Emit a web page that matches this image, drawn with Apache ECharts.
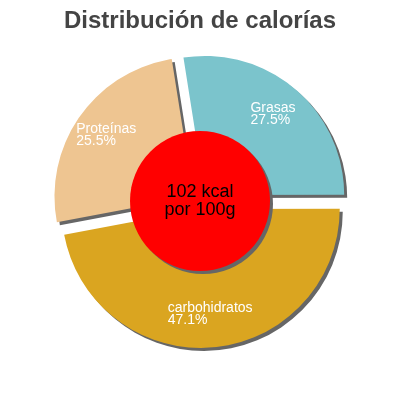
<!DOCTYPE html>
<html>
    <head>
        <meta charset="UTF-8">
        <title>Distribución de calorías</title>
        <script src="https://cdn.jsdelivr.net/npm/echarts@6/dist/echarts.min.js"></script>
    </head>
    <body style="margin: 0; background-color: #fff;">
        <div id="main" style="width: 400px;height:400px;"></div>
        <script>
            // datos
            var categories = ['Grasas', 'carbohidratos', 'Proteínas'];
            var values = [27.5, 47.1, 25.5];
            var colors = ['#7bc4cc', '#daa520', '#eec591'];
            var centerLines = ['102 kcal', 'por 100g'];

            var gb = {
                center: [200, 201],
                radius: 139,
                inner: 70,
                offset: 8,
                shadow: '#666',
                font: '"Liberation Sans", Arial, sans-serif',
                labelSize: 14
            };

            // ancho de cada etiqueta para alinear las dos lineas a la izquierda
            var ctx = document.createElement('canvas').getContext('2d');
            ctx.font = gb.labelSize + 'px ' + gb.font;
            function labelWidth(i) {
                var a = ctx.measureText(categories[i]).width;
                var b = ctx.measureText(values[i] + '%').width;
                return Math.ceil(Math.max(a, b)) + 1;
            }

            var sliceData = [];
            var labelData = [];
            for (var i = 0; i < categories.length; i++) {
                sliceData.push({
                    name: categories[i],
                    value: values[i],
                    selected: true,
                    itemStyle: {color: colors[i]}
                });
                labelData.push({
                    name: categories[i],
                    value: values[i],
                    selected: true,
                    label: {
                        rich: {
                            t: {width: labelWidth(i), align: 'left'}
                        }
                    }
                });
            }

            var myChart = echarts.init(document.getElementById('main'));

            var option = {
                animation: false,
                title: {
                    text: 'Distribución de calorías',
                    left: 'center',
                    top: 4,
                    textStyle: {
                        color: '#444',
                        fontSize: 24,
                        fontWeight: 'bold',
                        fontFamily: gb.font
                    }
                },
                series: [
                    {
                        type: 'pie',
                        z: 1,
                        center: gb.center,
                        radius: [0, gb.radius],
                        startAngle: 99,
                        clockwise: true,
                        selectedMode: 'multiple',
                        selectedOffset: gb.offset,
                        silent: true,
                        label: {show: false},
                        labelLine: {show: false},
                        itemStyle: {
                            shadowColor: gb.shadow,
                            shadowBlur: 0,
                            shadowOffsetX: 3,
                            shadowOffsetY: 3
                        },
                        data: sliceData
                    },
                    {
                        // circulo central
                        type: 'pie',
                        z: 5,
                        center: gb.center,
                        radius: [0, gb.inner],
                        silent: true,
                        labelLine: {show: false},
                        itemStyle: {
                            color: '#ff0000',
                            shadowColor: gb.shadow,
                            shadowBlur: 0,
                            shadowOffsetX: 3,
                            shadowOffsetY: 3
                        },
                        label: {
                            show: true,
                            position: 'center',
                            color: '#000',
                            fontSize: 18,
                            lineHeight: 18,
                            fontFamily: gb.font,
                            formatter: centerLines.join('\n')
                        },
                        data: [{name: 'kcal', value: 1}]
                    },
                    {
                        // solo etiquetas
                        type: 'pie',
                        z: 6,
                        center: gb.center,
                        radius: [67, gb.radius],
                        startAngle: 99,
                        clockwise: true,
                        selectedMode: 'multiple',
                        selectedOffset: gb.offset,
                        silent: true,
                        itemStyle: {color: 'rgba(0,0,0,0)'},
                        labelLine: {show: false},
                        label: {
                            show: true,
                            position: 'inside',
                            color: '#fff',
                            fontSize: gb.labelSize,
                            fontFamily: gb.font,
                            lineHeight: 12,
                            formatter: function (p) {
                                return '{t|' + p.name + '}\n{t|' + p.value + '%}';
                            },
                            rich: {
                                t: {
                                    color: '#fff',
                                    fontSize: gb.labelSize,
                                    fontFamily: gb.font,
                                    lineHeight: 12
                                }
                            }
                        },
                        data: labelData
                    }
                ]
            };
            myChart.setOption(option);
        </script>
    </body>
</html>
